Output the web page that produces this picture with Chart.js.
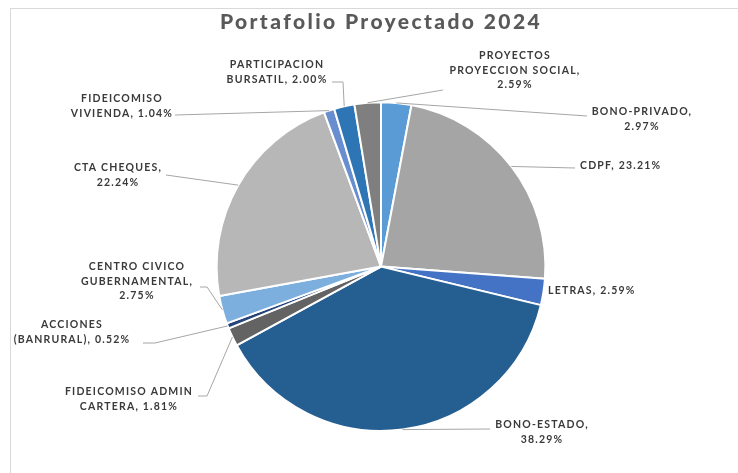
<!DOCTYPE html>
<html>
<head>
<meta charset="utf-8">
<script src="https://cdn.jsdelivr.net/npm/chart.js@4"></script>
<style>
  html, body { margin: 0; padding: 0; background: #fff; }
  #wrap { position: relative; width: 738px; height: 473px; overflow: hidden; }
  #frame { position: absolute; left: 10px; top: 8px; width: 760px; height: 500px; border: 1px solid #d9d9d9; }
  canvas { position: absolute; left: 0; top: 0; }
</style>
</head>
<body>
<div id="wrap">
  <div id="frame"></div>
  <canvas id="chart" width="738" height="473"></canvas>
</div>
<script>
// data, clockwise from 12 o'clock
const categories = [
  'BONO-PRIVADO', 'CDPF', 'LETRAS', 'BONO-ESTADO', 'FIDEICOMISO ADMIN\nCARTERA',
  'ACCIONES\n(BANRURAL)', 'CENTRO CIVICO\nGUBERNAMENTAL', 'CTA CHEQUES',
  'FIDEICOMISO\nVIVIENDA', 'PARTICIPACION\nBURSATIL', 'PROYECTOS\nPROYECCION SOCIAL'
];
const shares = [2.97, 23.21, 2.59, 38.29, 1.81, 0.52, 2.75, 22.24, 1.04, 2.00, 2.59];
const sliceColors = [
  '#5B9BD5', '#A5A5A5', '#4472C4', '#255E91', '#636363',
  '#264478', '#7CAFDD', '#B7B7B7', '#698ED0', '#2E75B6', '#7F7F7F'
];

// label placement: text anchor, alignment, separator before value, leader points (label side first)
const labelLayout = [
  { x: 642, y: 112, align: 'center', sep: '\n', lead: [[587, 116]] },
  { x: 580, y: 166, align: 'left', sep: ' ', lead: [[575, 168]] },
  { x: 548, y: 291, align: 'left', sep: ' ', lead: [] },
  { x: 542, y: 425, align: 'center', sep: '\n', lead: [[490, 429]] },
  { x: 129, y: 392, align: 'center', sep: ' ', lead: [[198, 396], [207, 396]] },
  { x: 72, y: 325, align: 'center', sep: ' ', lead: [[143, 343], [155, 343]] },
  { x: 137, y: 267, align: 'center', sep: '\n', lead: [[200, 287], [207, 287]] },
  { x: 118, y: 168, align: 'center', sep: '\n', lead: [[166, 175]] },
  { x: 122, y: 99, align: 'center', sep: ' ', lead: [[175, 115]] },
  { x: 277, y: 65, align: 'center', sep: ' ', lead: [[332, 82], [343, 82]] },
  { x: 515, y: 56, align: 'center', sep: '\n', lead: [[443, 90]] }
];

const pieLabels = {
  id: 'pieLabels',
  beforeDraw(chart) {
    chart.ctx.letterSpacing = '2.4px';
  },
  afterDatasetsDraw(chart) {
    const ctx = chart.ctx;
    const arcs = chart.getDatasetMeta(0).data;
    ctx.save();
    arcs.forEach((arc, i) => {
      const lay = labelLayout[i];
      const mid = (arc.startAngle + arc.endAngle) / 2;
      const ax = arc.x + Math.cos(mid) * arc.outerRadius;
      const ay = arc.y + Math.sin(mid) * arc.outerRadius;
      if (lay.lead.length) {
        ctx.strokeStyle = '#a6a6a6';
        ctx.lineWidth = 1;
        ctx.beginPath();
        ctx.moveTo(lay.lead[0][0], lay.lead[0][1]);
        lay.lead.slice(1).forEach(p => ctx.lineTo(p[0], p[1]));
        ctx.lineTo(ax, ay);
        ctx.stroke();
      }
      const text = categories[i] + ',' + lay.sep + shares[i].toFixed(2) + '%';
      ctx.font = 'bold 10.5px Lato';
      ctx.letterSpacing = '1.2px';
      ctx.fillStyle = '#3a3a3a';
      ctx.textAlign = lay.align;
      ctx.textBaseline = 'middle';
      text.split('\n').forEach((line, k) => {
        ctx.fillText(line, lay.x, lay.y + k * 14.5);
      });
    });
    ctx.restore();
  }
};

new Chart(document.getElementById('chart'), {
  type: 'pie',
  data: {
    labels: categories,
    datasets: [{
      data: shares,
      backgroundColor: sliceColors,
      borderColor: '#ffffff',
      borderWidth: 2
    }]
  },
  options: {
    responsive: false,
    animation: false,
    events: [],
    layout: { padding: { top: 0, bottom: 41, left: 200, right: 176 } },
    plugins: {
      legend: { display: false },
      tooltip: { enabled: false },
      title: {
        display: true,
        text: 'Portafolio Proyectado 2024',
        color: '#595959',
        font: { family: 'Lato', size: 21, weight: '900', lineHeight: 1.2 },
        padding: { top: 10, bottom: 66 }
      }
    }
  },
  plugins: [pieLabels]
});
</script>
</body>
</html>
